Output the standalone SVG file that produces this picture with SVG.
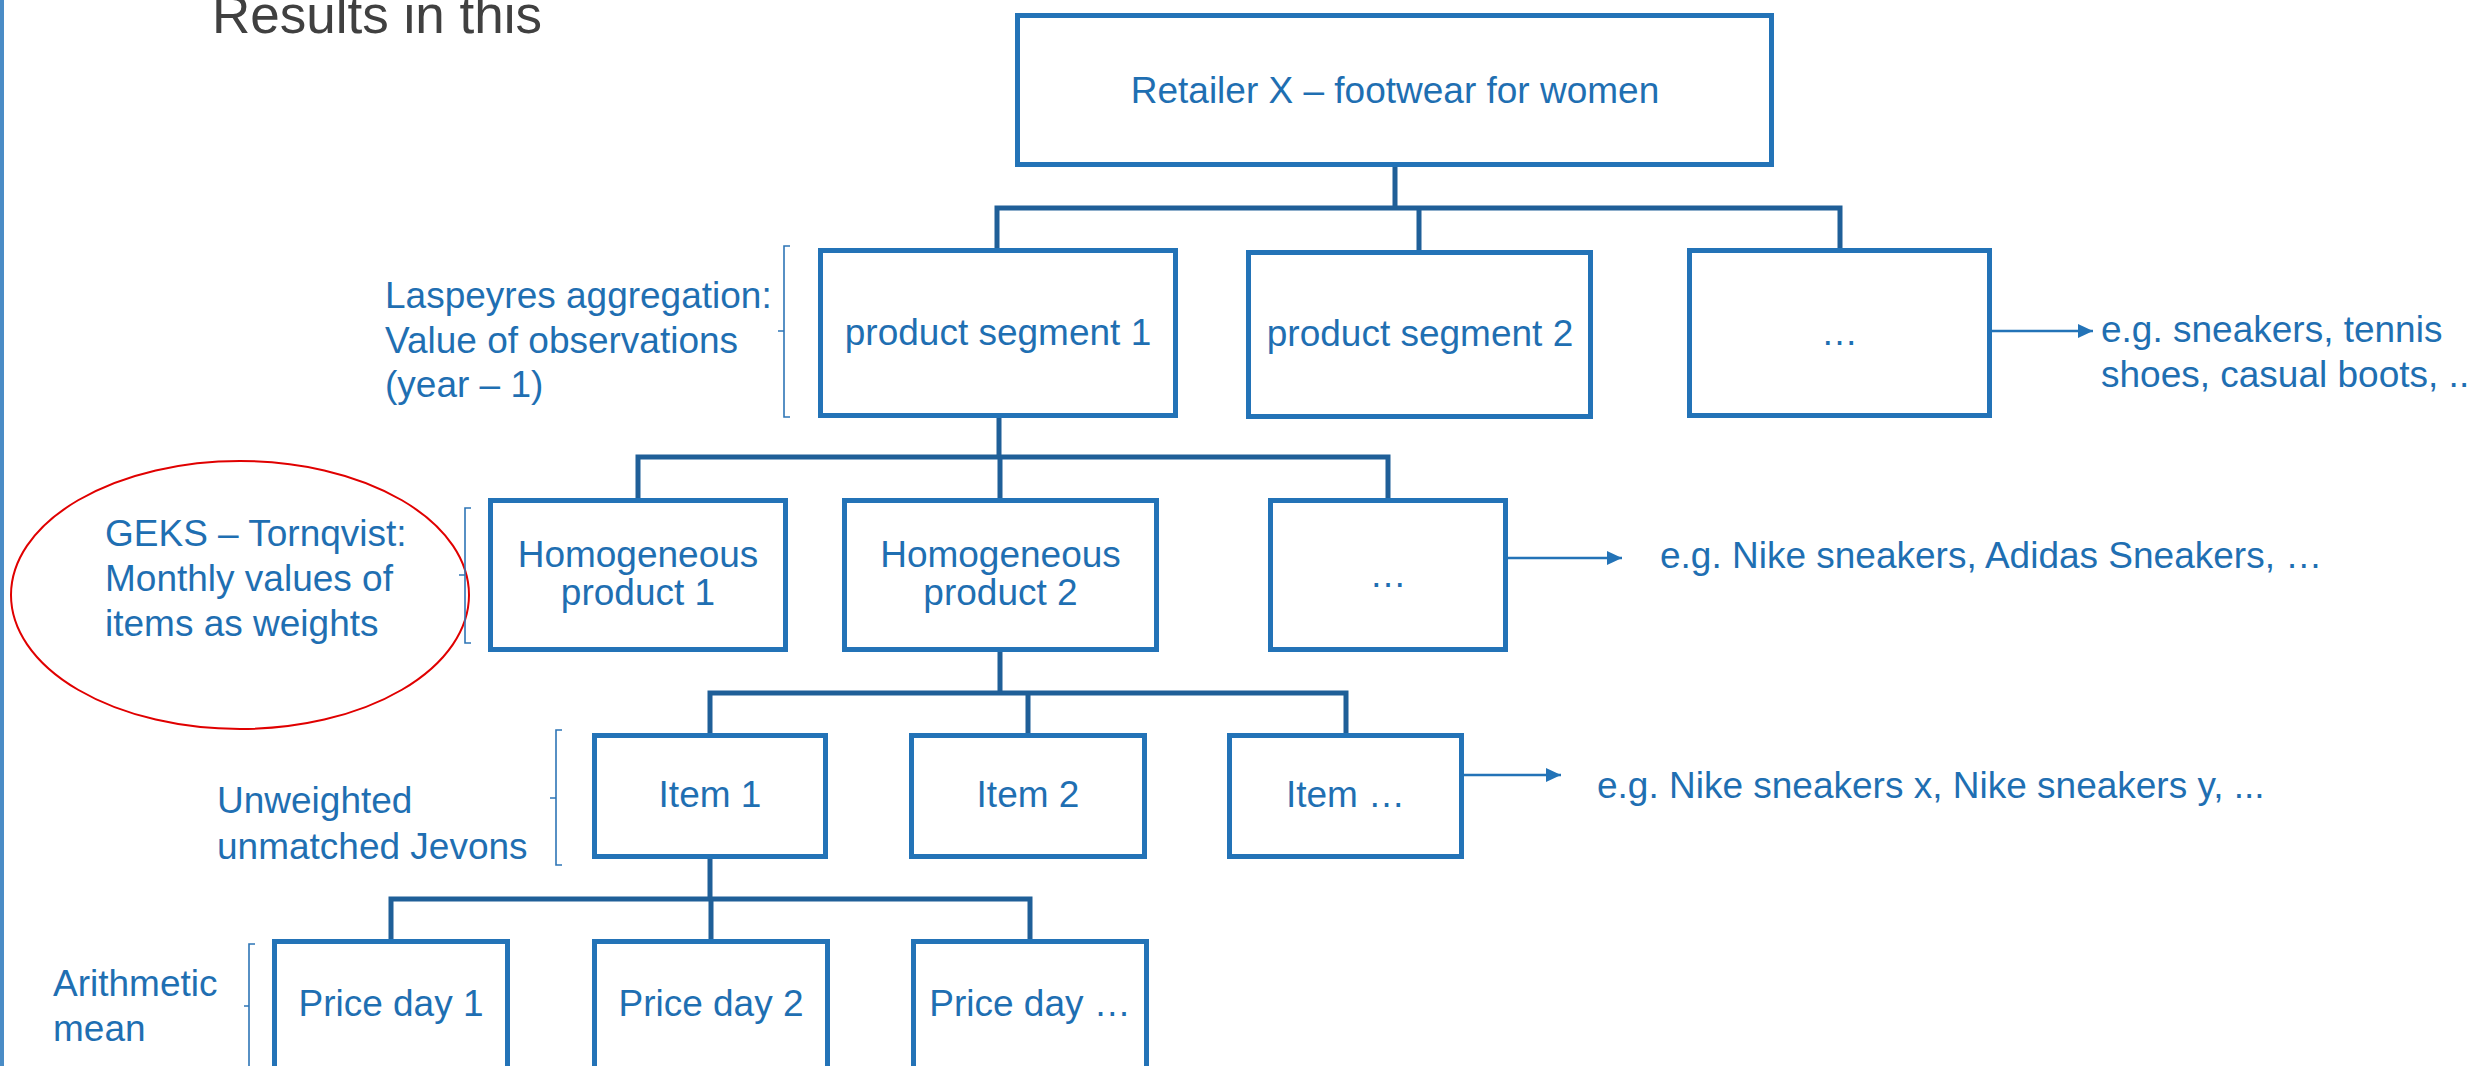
<svg xmlns="http://www.w3.org/2000/svg" width="2473" height="1066" viewBox="0 0 2473 1066">
<style>
.box{fill:#fff;stroke:#2373B7;stroke-width:5}
.t{font-family:"Liberation Sans",Arial,sans-serif;font-size:37px;fill:#1F6FB2}
.m{text-anchor:middle}
.con{fill:none;stroke:#1F5F98;stroke-width:5;stroke-linecap:square}
.br{fill:none;stroke:#2E75B6;stroke-width:1.6}
.ar{fill:none;stroke:#2373B7;stroke-width:2.5}
</style>
<defs>
<marker id="ah" markerWidth="15" markerHeight="14" refX="15" refY="7" orient="auto" markerUnits="userSpaceOnUse">
<path d="M0,0 L15,7 L0,14 Z" fill="#2373B7"/>
</marker>
</defs>
<rect x="0" y="0" width="2473" height="1066" fill="#fff"/>
<rect x="0" y="0" width="4" height="1066" fill="#4A8CC6"/>
<text x="212" y="33" font-family="Liberation Sans, Arial, sans-serif" font-size="53" fill="#404040">Results in this</text>

<g id="connectors">
<path class="con" d="M1395,167 V208 M997,248 V208 H1840 V248 M1419,208 V250"/>
<path class="con" d="M999,418 V457 M638,498 V457 H1388 V498 M1000,457 V498"/>
<path class="con" d="M1000,652 V693 M710,733 V693 H1346 V733 M1028,693 V733"/>
<path class="con" d="M710,859 V899 M391,939 V899 H1030 V939 M711,899 V939"/>
<path class="ar" d="M1988,331 H2093" marker-end="url(#ah)"/>
<path class="ar" d="M1506,558 H1622" marker-end="url(#ah)"/>
<path class="ar" d="M1464,775 H1561" marker-end="url(#ah)"/>
</g>

<g id="root"><rect class="box" x="1017.5" y="15.5" width="754" height="149"/><text class="t m" x="1395" y="103">Retailer X – footwear for women</text></g>
<g id="seg1"><rect class="box" x="820.5" y="250.5" width="355" height="165"/><text class="t m" x="998" y="345">product segment 1</text></g>
<g id="seg2"><rect class="box" x="1248.5" y="252.5" width="342" height="164"/><text class="t m" x="1420" y="346">product segment 2</text></g>
<g id="seg3"><rect class="box" x="1689.5" y="250.5" width="300" height="165"/><text class="t m" x="1839.5" y="345">…</text></g>

<g id="hp1"><rect class="box" x="490.5" y="500.5" width="295" height="149"/><text class="t m" x="638" y="567">Homogeneous</text><text class="t m" x="638" y="605">product 1</text></g>
<g id="hp2"><rect class="box" x="844.5" y="500.5" width="312" height="149"/><text class="t m" x="1000.5" y="567">Homogeneous</text><text class="t m" x="1000.5" y="605">product 2</text></g>
<g id="hp3"><rect class="box" x="1270.5" y="500.5" width="235" height="149"/><text class="t m" x="1388" y="587">…</text></g>

<g id="item1"><rect class="box" x="594.5" y="735.5" width="231" height="121"/><text class="t m" x="710" y="807">Item 1</text></g>
<g id="item2"><rect class="box" x="911.5" y="735.5" width="233" height="121"/><text class="t m" x="1028" y="807">Item 2</text></g>
<g id="item3"><rect class="box" x="1229.5" y="735.5" width="232" height="121"/><text class="t m" x="1345.5" y="807">Item …</text></g>

<g id="price1"><rect class="box" x="274.5" y="941.5" width="233" height="200"/><text class="t m" x="391" y="1016">Price day 1</text></g>
<g id="price2"><rect class="box" x="594.5" y="941.5" width="233" height="200"/><text class="t m" x="711" y="1016">Price day 2</text></g>
<g id="price3"><rect class="box" x="913.5" y="941.5" width="233" height="200"/><text class="t m" x="1030" y="1016">Price day …</text></g>

<g id="note-laspeyres">
<path class="br" d="M790,246 H784 V417 H790 M784,331 H778"/>
<text class="t" x="385" y="308">Laspeyres aggregation:</text>
<text class="t" x="385" y="353">Value of observations</text>
<text class="t" x="385" y="397">(year – 1)</text>
</g>
<g id="note-geks">
<ellipse cx="240" cy="595" rx="229" ry="134" fill="none" stroke="#E00000" stroke-width="2"/>
<path class="br" d="M471,508 H465 V643 H471 M465,575 H459"/>
<text class="t" x="105" y="546">GEKS – Tornqvist:</text>
<text class="t" x="105" y="591">Monthly values of</text>
<text class="t" x="105" y="636">items as weights</text>
</g>
<g id="note-jevons">
<path class="br" d="M562,730 H556 V865 H562 M556,798 H550"/>
<text class="t" x="217" y="813">Unweighted</text>
<text class="t" x="217" y="859">unmatched Jevons</text>
</g>
<g id="note-mean">
<path class="br" d="M255,944 H249 V1080 M249,1006 H244"/>
<text class="t" x="53" y="996">Arithmetic</text>
<text class="t" x="53" y="1041">mean</text>
</g>

<g id="ex1"><text class="t" x="2101" y="342">e.g. sneakers, tennis</text><text class="t" x="2101" y="387">shoes, casual boots, ..</text></g>
<g id="ex2"><text class="t" x="1660" y="568">e.g. Nike sneakers, Adidas Sneakers, …</text></g>
<g id="ex3"><text class="t" x="1597" y="798">e.g. Nike sneakers x, Nike sneakers y, ...</text></g>
</svg>
